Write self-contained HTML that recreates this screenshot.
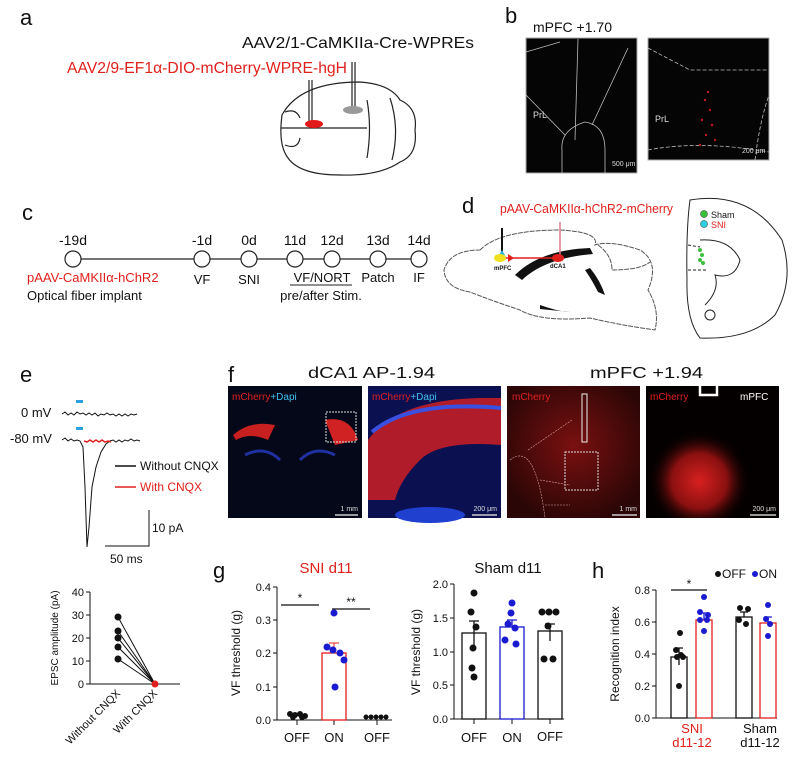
<!DOCTYPE html>
<html><head><meta charset="utf-8"><style>
html,body{margin:0;padding:0;background:#fff}
svg{display:block;font-family:"Liberation Sans",Arial,sans-serif}
</style></head><body>
<svg width="800" height="759" viewBox="0 0 800 759" xmlns="http://www.w3.org/2000/svg">
<defs>
<radialGradient id="g3" cx="0.5" cy="0.45" r="0.6"><stop offset="0" stop-color="#7a1010"/><stop offset="1" stop-color="#2a0606"/></radialGradient>
<radialGradient id="g4" cx="0.4" cy="0.72" r="0.38"><stop offset="0" stop-color="#d82020"/><stop offset="0.55" stop-color="#8a1010"/><stop offset="1" stop-color="#0a0000" stop-opacity="0"/></radialGradient>
</defs>
<g font-size="14" fill="#111">
<!-- a -->
<text x="20" y="25" font-size="22">a</text>
<text x="242" y="48" font-size="16" textLength="232" lengthAdjust="spacingAndGlyphs">AAV2/1-CaMKIIa-Cre-WPREs</text>
<text x="67" y="73" font-size="16" fill="#e0201c" textLength="280" lengthAdjust="spacingAndGlyphs">AAV2/9-EF1α-DIO-mCherry-WPRE-hgH</text>
<g fill="none" stroke="#222" stroke-width="1.2">
<path d="M309 80V123M312 80V123M352 62V108M355 62V108"/>
<path d="M282 115 Q300 82 360 82 Q390 84 400 100 Q418 108 415 130 Q418 155 400 162 Q380 176 340 175 Q300 175 288 158 Q278 145 282 115Z"/>
<path d="M281 128H367M367 100Q372 128 367 158M390 98Q400 128 392 160"/>
<path d="M285 112Q296 108 300 118M285 145Q298 150 300 138"/>
</g>
<ellipse cx="314" cy="124" rx="9" ry="4" fill="#e41a1a"/>
<ellipse cx="353" cy="110" rx="10" ry="4" fill="#999"/>
<!-- b -->
<text x="505" y="23" font-size="22">b</text>
<text x="533" y="32" font-size="14">mPFC +1.70</text>
<rect x="526" y="38" width="111" height="135" fill="#050505" stroke="#aaa"/>
<rect x="648" y="38" width="121" height="122" fill="#050505" stroke="#aaa"/>
<g fill="none" stroke="#bbb" stroke-width="0.8">
<path d="M526 52L560 42M578 39L575 140M628 48L592 125M526 95L565 135"/>
<path d="M562 173V150Q560 130 585 122Q605 125 605 150V173"/>
<path d="M648 48L690 70L769 70M648 150Q700 140 769 152M755 160Q760 120 769 95" stroke-dasharray="4,2"/>
</g>
<text x="533" y="118" font-size="9" fill="#ddd">PrL</text>
<text x="655" y="122" font-size="9" fill="#ddd">PrL</text>
<text x="612" y="166" font-size="7" fill="#ddd">500 μm</text>
<text x="742" y="153" font-size="7" fill="#ddd">200 μm</text>
<g fill="#c01818"><circle cx="705" cy="100" r="1.2"/><circle cx="710" cy="110" r="1.2"/><circle cx="702" cy="120" r="1.2"/><circle cx="712" cy="125" r="1.2"/><circle cx="706" cy="135" r="1.2"/><circle cx="715" cy="140" r="1.2"/><circle cx="700" cy="145" r="1.2"/><circle cx="708" cy="92" r="1.2"/></g>
<!-- c -->
<text x="22" y="220" font-size="22">c</text>
<line x1="73" y1="259" x2="419" y2="259" stroke="#222" stroke-width="1.3"/>
<g fill="#fff" stroke="#222" stroke-width="1.2">
<circle cx="73" cy="259" r="8"/><circle cx="202" cy="259" r="8"/><circle cx="249" cy="259" r="8"/><circle cx="295" cy="259" r="8"/><circle cx="332" cy="259" r="8"/><circle cx="378" cy="259" r="8"/><circle cx="419" cy="259" r="8"/></g>
<g text-anchor="middle" font-size="14"><text x="73" y="245">-19d</text><text x="202" y="245">-1d</text><text x="249" y="245">0d</text><text x="295" y="245">11d</text><text x="332" y="245">12d</text><text x="378" y="245">13d</text><text x="419" y="245">14d</text>
<text x="202" y="284" font-size="13">VF</text><text x="249" y="284" font-size="13">SNI</text><text x="322" y="282" font-size="13">VF/NORT</text><text x="378" y="282" font-size="13">Patch</text><text x="419" y="282" font-size="13">IF</text>
<text x="321" y="300" font-size="13">pre/after Stim.</text></g>
<line x1="290" y1="285" x2="352" y2="285" stroke="#222"/>
<text x="27" y="282" font-size="13" fill="#e0201c">pAAV-CaMKIIα-hChR2</text>
<text x="27" y="300" font-size="13">Optical fiber implant</text>
<!-- d -->
<text x="462" y="213" font-size="22">d</text>
<text x="500" y="213" font-size="13" fill="#e0201c" textLength="173" lengthAdjust="spacingAndGlyphs">pAAV-CaMKIIα-hChR2-mCherry</text>
<g fill="none" stroke="#555" stroke-width="1" stroke-dasharray="5,1">
<path d="M480 250Q500 230 560 230Q600 232 595 245Q610 240 640 250Q660 262 648 290Q660 310 655 330Q620 325 590 318Q540 322 520 310Q490 300 470 292Q445 288 444 270Q450 250 480 250Z"/>
<path d="M598 245Q612 255 612 270Q640 270 650 262"/>
</g>
<path d="M515 275Q540 250 590 248L593 254Q545 258 522 280Z" fill="#111"/>
<path d="M590 268Q600 280 605 295L598 292Q592 280 585 270Z" fill="#111"/>
<path d="M540 305Q560 312 570 312L540 309Z" fill="#111"/>
<line x1="502" y1="228" x2="502" y2="252" stroke="#111" stroke-width="2"/>
<path d="M498 257L502 250L506 257Z" fill="#2ab4e0"/>
<line x1="560" y1="222" x2="560" y2="255" stroke="#e07a8a" stroke-width="1.5"/>
<line x1="505" y1="258" x2="555" y2="258" stroke="#e0201c" stroke-width="1.5"/>
<ellipse cx="500" cy="258" rx="6" ry="4" fill="#f0e020"/>
<path d="M508 254L514 258L508 262Z" fill="#e0201c"/>
<ellipse cx="558" cy="258" rx="6" ry="4" fill="#e0201c"/>
<text x="494" y="270" font-size="6" font-weight="bold">mPFC</text>
<text x="550" y="268" font-size="6" font-weight="bold">dCA1</text>
<path d="M690 200Q750 190 782 240Q795 280 775 315Q750 340 700 338Q686 320 687 280Q686 230 690 200Z" fill="none" stroke="#222"/>
<path d="M700 240Q730 238 740 260Q735 280 715 275Q720 290 705 305" fill="none" stroke="#222"/>
<circle cx="710" cy="315" r="5" fill="none" stroke="#222"/>
<path d="M688 245L700 247M688 270L706 270" stroke="#222" stroke-dasharray="3,2"/>
<g fill="#3cc03c"><circle cx="700" cy="250" r="2"/><circle cx="702" cy="255" r="2"/><circle cx="700" cy="260" r="2"/><circle cx="703" cy="263" r="2"/></g>
<circle cx="704" cy="214" r="3.5" fill="#3cc03c" stroke="#222" stroke-width="0.5"/>
<circle cx="704" cy="224" r="3.5" fill="#2ad0e0" stroke="#222" stroke-width="0.5"/>
<text x="711" y="218" font-size="9">Sham</text>
<text x="711" y="228" font-size="9" fill="#e0201c">SNI</text>
<!-- e/f labels -->
<text x="20" y="382" font-size="22">e</text>
<text x="228" y="382" font-size="22">f</text>
<text x="308" y="378" font-size="16" textLength="127" lengthAdjust="spacingAndGlyphs">dCA1 AP-1.94</text>
<text x="590" y="378" font-size="16" textLength="113" lengthAdjust="spacingAndGlyphs">mPFC +1.94</text>
<!-- f images -->
<rect x="228" y="386" width="134" height="132" fill="#050818"/>
<path d="M233 435Q250 420 275 425L268 440Q250 432 236 440Z" fill="#c82020"/>
<path d="M325 420Q350 415 358 440L335 445Z" fill="#d02222"/>
<path d="M245 455Q265 445 280 460M300 460Q315 445 335 455" stroke="#2030a0" stroke-width="3" fill="none"/>
<rect x="326" y="412" width="30" height="30" fill="none" stroke="#ddd" stroke-dasharray="2,1"/>
<rect x="368" y="386" width="133" height="132" fill="#0a1050"/>
<path d="M368 440Q400 395 501 398V445Q440 440 420 460Q400 480 395 500L368 500Z" fill="#b01c2a"/>
<path d="M372 432Q410 400 501 408" stroke="#3a50e0" stroke-width="4" fill="none"/>
<ellipse cx="430" cy="515" rx="35" ry="8" fill="#2040d0"/>
<rect x="507" y="386" width="133" height="132" fill="url(#g3)"/>
<rect x="565" y="452" width="33" height="38" fill="none" stroke="#ddd" stroke-dasharray="2,1"/>
<rect x="582" y="394" width="5" height="48" fill="none" stroke="#eee"/>
<path d="M510 460Q535 440 545 518M528 450L572 420M540 480L570 485M545 505L570 505" stroke="#d8a0a0" stroke-width="0.6" fill="none" stroke-dasharray="2,1"/>
<rect x="646" y="386" width="133" height="132" fill="#050000"/>
<rect x="646" y="386" width="133" height="132" fill="url(#g4)"/>
<path d="M700 386V395H717V386" stroke="#fff" stroke-width="2.5" fill="none"/>
<g font-size="10">
<text x="232" y="400" fill="#e02020">mCherry<tspan fill="#40c0f0">+Dapi</tspan></text>
<text x="372" y="400" fill="#e02020">mCherry<tspan fill="#40c0f0">+Dapi</tspan></text>
<text x="512" y="400" fill="#e02020">mCherry</text>
<text x="650" y="400" fill="#e02020">mCherry</text>
<text x="740" y="400" fill="#fff">mPFC</text>
</g>
<g font-size="7" fill="#ddd" text-anchor="end"><text x="358" y="511">1 mm</text><text x="497" y="511">200 μm</text><text x="637" y="511">1 mm</text><text x="776" y="511">200 μm</text></g>
<g stroke="#ccc" stroke-width="1.5"><line x1="335" y1="515" x2="358" y2="515"/><line x1="472" y1="515" x2="497" y2="515"/><line x1="612" y1="515" x2="637" y2="515"/><line x1="750" y1="515" x2="776" y2="515"/></g>
<!-- e traces -->
<text x="21" y="417" font-size="13">0 mV</text>
<text x="10" y="443" font-size="13">-80 mV</text>
<rect x="76" y="400" width="7" height="3" fill="#2aa0e0"/>
<rect x="76" y="427" width="7" height="3" fill="#2aa0e0"/>
<path d="M62 414l3-2 3 3 3-2 3 2 3-3 3 2 3-1 3 2 3-2 3 2 3-2 3 3 3-2 3 1 3-2 3 2 3-1 3 2 3-2 3 2 3-2 3 2 3-2 3 1 3-1" fill="none" stroke="#111"/>
<path d="M62 440l3-2 3 3 3-2 3 2 3-1 3 1 3 6 2 40 2 60 2-20 3-40 4-20 5-15 5-8 4-3 3-1 3 2 3-2 3 2 3-2 3 1 3-2 3 2 3-1 3 1" fill="none" stroke="#111"/>
<path d="M84 441l3 1 3-2 3 2 3-2 3 2 3-2 3 2 3-1 3 1" fill="none" stroke="#e0201c" stroke-width="1.5"/>
<line x1="115" y1="466" x2="136" y2="466" stroke="#111" stroke-width="1.5"/>
<text x="140" y="470" font-size="12">Without CNQX</text>
<line x1="115" y1="487" x2="136" y2="487" stroke="#e0201c" stroke-width="1.5"/>
<text x="140" y="491" font-size="12" fill="#e0201c">With CNQX</text>
<path d="M149 510V546H105" fill="none" stroke="#111"/>
<text x="152" y="532" font-size="12">10 pA</text>
<text x="110" y="563" font-size="12">50 ms</text>
<!-- EPSC chart -->
<g stroke="#111" fill="none"><path d="M90 592V684H180"/><path d="M86 592H90M86 615H90M86 638H90M86 661H90M86 684H90"/></g>
<g font-size="11" text-anchor="end"><text x="84" y="596">40</text><text x="84" y="619">30</text><text x="84" y="642">20</text><text x="84" y="665">10</text><text x="84" y="688">0</text></g>
<g stroke="#111"><line x1="118" y1="617" x2="155" y2="684"/><line x1="118" y1="631" x2="155" y2="684"/><line x1="118" y1="638" x2="155" y2="684"/><line x1="118" y1="647" x2="155" y2="684"/><line x1="118" y1="659" x2="155" y2="684"/></g>
<g fill="#111"><circle cx="118" cy="617" r="3.5"/><circle cx="118" cy="631" r="3.5"/><circle cx="118" cy="638" r="3.5"/><circle cx="118" cy="647" r="3.5"/><circle cx="118" cy="659" r="3.5"/></g>
<circle cx="155" cy="684" r="3.5" fill="#e0201c"/>
<text transform="translate(58,638) rotate(-90)" font-size="10" text-anchor="middle">EPSC amplitude (pA)</text>
<text transform="translate(121,694) rotate(-45)" font-size="11" text-anchor="end">Without CNQX</text>
<text transform="translate(158,694) rotate(-45)" font-size="11" text-anchor="end">With CNQX</text>
<!-- g -->
<text x="213" y="578" font-size="22">g</text>
<text x="326" y="573" font-size="15" fill="#e0201c" text-anchor="middle">SNI d11</text>
<g stroke="#111" fill="none"><path d="M277 587V720H392"/><path d="M273 587H277M273 620H277M273 653H277M273 687H277M273 720H277M297 720V725M334 720V725M377 720V725"/></g>
<g font-size="11" text-anchor="end"><text x="271" y="591">0.4</text><text x="271" y="624">0.3</text><text x="271" y="657">0.2</text><text x="271" y="691">0.1</text><text x="271" y="724">0.0</text></g>
<text transform="translate(240,653) rotate(-90)" font-size="12" text-anchor="middle">VF threshold (g)</text>
<rect x="322" y="653" width="24" height="67" fill="none" stroke="#e0201c" stroke-width="1.3"/>
<path d="M334 653V643M329 643H339" stroke="#e0201c"/>
<g fill="#111"><circle cx="290" cy="714" r="3"/><circle cx="295" cy="715" r="3"/><circle cx="300" cy="714" r="3"/><circle cx="305" cy="716" r="3"/><circle cx="293" cy="717" r="3"/><circle cx="302" cy="717" r="3"/>
<circle cx="366" cy="717" r="2.5"/><circle cx="371" cy="717" r="2.5"/><circle cx="376" cy="717" r="2.5"/><circle cx="381" cy="717" r="2.5"/><circle cx="386" cy="717" r="2.5"/></g>
<g fill="#1a1ad0"><circle cx="334" cy="613" r="3.5"/><circle cx="327" cy="647" r="3.5"/><circle cx="333" cy="650" r="3.5"/><circle cx="340" cy="653" r="3.5"/><circle cx="344" cy="660" r="3.5"/><circle cx="335" cy="687" r="3.5"/></g>
<path d="M281 605H319M332 609H370" stroke="#111" stroke-width="1.3"/>
<text x="300" y="602" font-size="12" text-anchor="middle">*</text>
<text x="351" y="606" font-size="12" text-anchor="middle">**</text>
<g font-size="13" text-anchor="middle"><text x="297" y="742">OFF</text><text x="334" y="742">ON</text><text x="377" y="742">OFF</text></g>
<!-- sham -->
<text x="508" y="573" font-size="15" text-anchor="middle">Sham d11</text>
<g stroke="#111" fill="none"><path d="M454 584V719H564"/><path d="M450 584H454M450 618H454M450 652H454M450 685H454M450 719H454M474 719V724M512 719V724M550 719V724"/></g>
<g font-size="11" text-anchor="end"><text x="448" y="588">2.0</text><text x="448" y="622">1.5</text><text x="448" y="656">1.0</text><text x="448" y="689">0.5</text><text x="448" y="723">0.0</text></g>
<text transform="translate(420,652) rotate(-90)" font-size="12" text-anchor="middle">VF threshold (g)</text>
<g fill="none" stroke="#111" stroke-width="1.3">
<rect x="462" y="633" width="24" height="86"/><rect x="500" y="627" width="24" height="92" stroke="#1a1ad0"/><rect x="538" y="631" width="24" height="88"/>
<path d="M474 633V621M469 621H479M474 633V645"/><path d="M512 627V620M507 620H517" stroke="#1a1ad0"/><path d="M550 631V624M545 624H555M550 631V641"/></g>
<g fill="#111"><circle cx="474" cy="593" r="3.5"/><circle cx="471" cy="612" r="3.5"/><circle cx="476" cy="627" r="3.5"/><circle cx="473" cy="648" r="3.5"/><circle cx="472" cy="668" r="3.5"/><circle cx="474" cy="677" r="3.5"/>
<circle cx="542" cy="612" r="3.5"/><circle cx="549" cy="612" r="3.5"/><circle cx="556" cy="612" r="3.5"/><circle cx="548" cy="626" r="3.5"/><circle cx="544" cy="659" r="3.5"/><circle cx="553" cy="659" r="3.5"/></g>
<g fill="#1a1ad0"><circle cx="512" cy="603" r="3.5"/><circle cx="511" cy="613" r="3.5"/><circle cx="508" cy="624" r="3.5"/><circle cx="515" cy="628" r="3.5"/><circle cx="505" cy="640" r="3.5"/><circle cx="516" cy="644" r="3.5"/></g>
<g font-size="13" text-anchor="middle"><text x="474" y="742">OFF</text><text x="512" y="742">ON</text><text x="550" y="741">OFF</text></g>
<!-- h -->
<text x="592" y="578" font-size="22">h</text>
<circle cx="718" cy="574" r="3" fill="#111"/><text x="722" y="578" font-size="12">OFF</text>
<circle cx="755" cy="574" r="3" fill="#1a1ad0"/><text x="759" y="578" font-size="12">ON</text>
<g stroke="#111" fill="none"><path d="M656 590V718H777"/><path d="M652 590H656M652 622H656M652 654H656M652 686H656M652 718H656"/></g>
<g font-size="11" text-anchor="end"><text x="650" y="594">0.8</text><text x="650" y="626">0.6</text><text x="650" y="658">0.4</text><text x="650" y="690">0.2</text><text x="650" y="722">0.0</text></g>
<text transform="translate(619,654) rotate(-90)" font-size="12" text-anchor="middle">Recognition index</text>
<g fill="none" stroke-width="1.3">
<rect x="671" y="657" width="16" height="61" stroke="#111"/><rect x="696" y="620" width="16" height="98" stroke="#e0201c"/>
<rect x="736" y="617" width="16" height="101" stroke="#111"/><rect x="760" y="623" width="16" height="95" stroke="#e0201c"/>
<path d="M679 657V648M675 648H683M679 657V665" stroke="#111"/><path d="M704 620V613M700 613H708" stroke="#1a1ad0"/>
<path d="M744 617V612M740 612H748" stroke="#111"/><path d="M768 623V617M764 617H772" stroke="#1a1ad0"/></g>
<g fill="#111"><circle cx="680" cy="633" r="3"/><circle cx="676" cy="650" r="3"/><circle cx="681" cy="655" r="3"/><circle cx="677" cy="657" r="3"/><circle cx="683" cy="657" r="3"/><circle cx="679" cy="686" r="3"/>
<circle cx="740" cy="608" r="3"/><circle cx="748" cy="609" r="3"/><circle cx="739" cy="620" r="3"/><circle cx="746" cy="624" r="3"/></g>
<g fill="#1a1ad0"><circle cx="704" cy="597" r="3"/><circle cx="700" cy="612" r="3"/><circle cx="708" cy="615" r="3"/><circle cx="700" cy="620" r="3"/><circle cx="707" cy="620" r="3"/><circle cx="704" cy="631" r="3"/>
<circle cx="768" cy="605" r="3"/><circle cx="766" cy="619" r="3"/><circle cx="770" cy="624" r="3"/><circle cx="768" cy="636" r="3"/></g>
<path d="M671 590H707" stroke="#111" stroke-width="1.3"/>
<text x="689" y="588" font-size="12" text-anchor="middle">*</text>
<g font-size="13" text-anchor="middle"><text x="692" y="733" fill="#e0201c">SNI</text><text x="692" y="747" fill="#e0201c">d11-12</text><text x="760" y="733">Sham</text><text x="760" y="747">d11-12</text></g>
</g>
</svg>
</body></html>
